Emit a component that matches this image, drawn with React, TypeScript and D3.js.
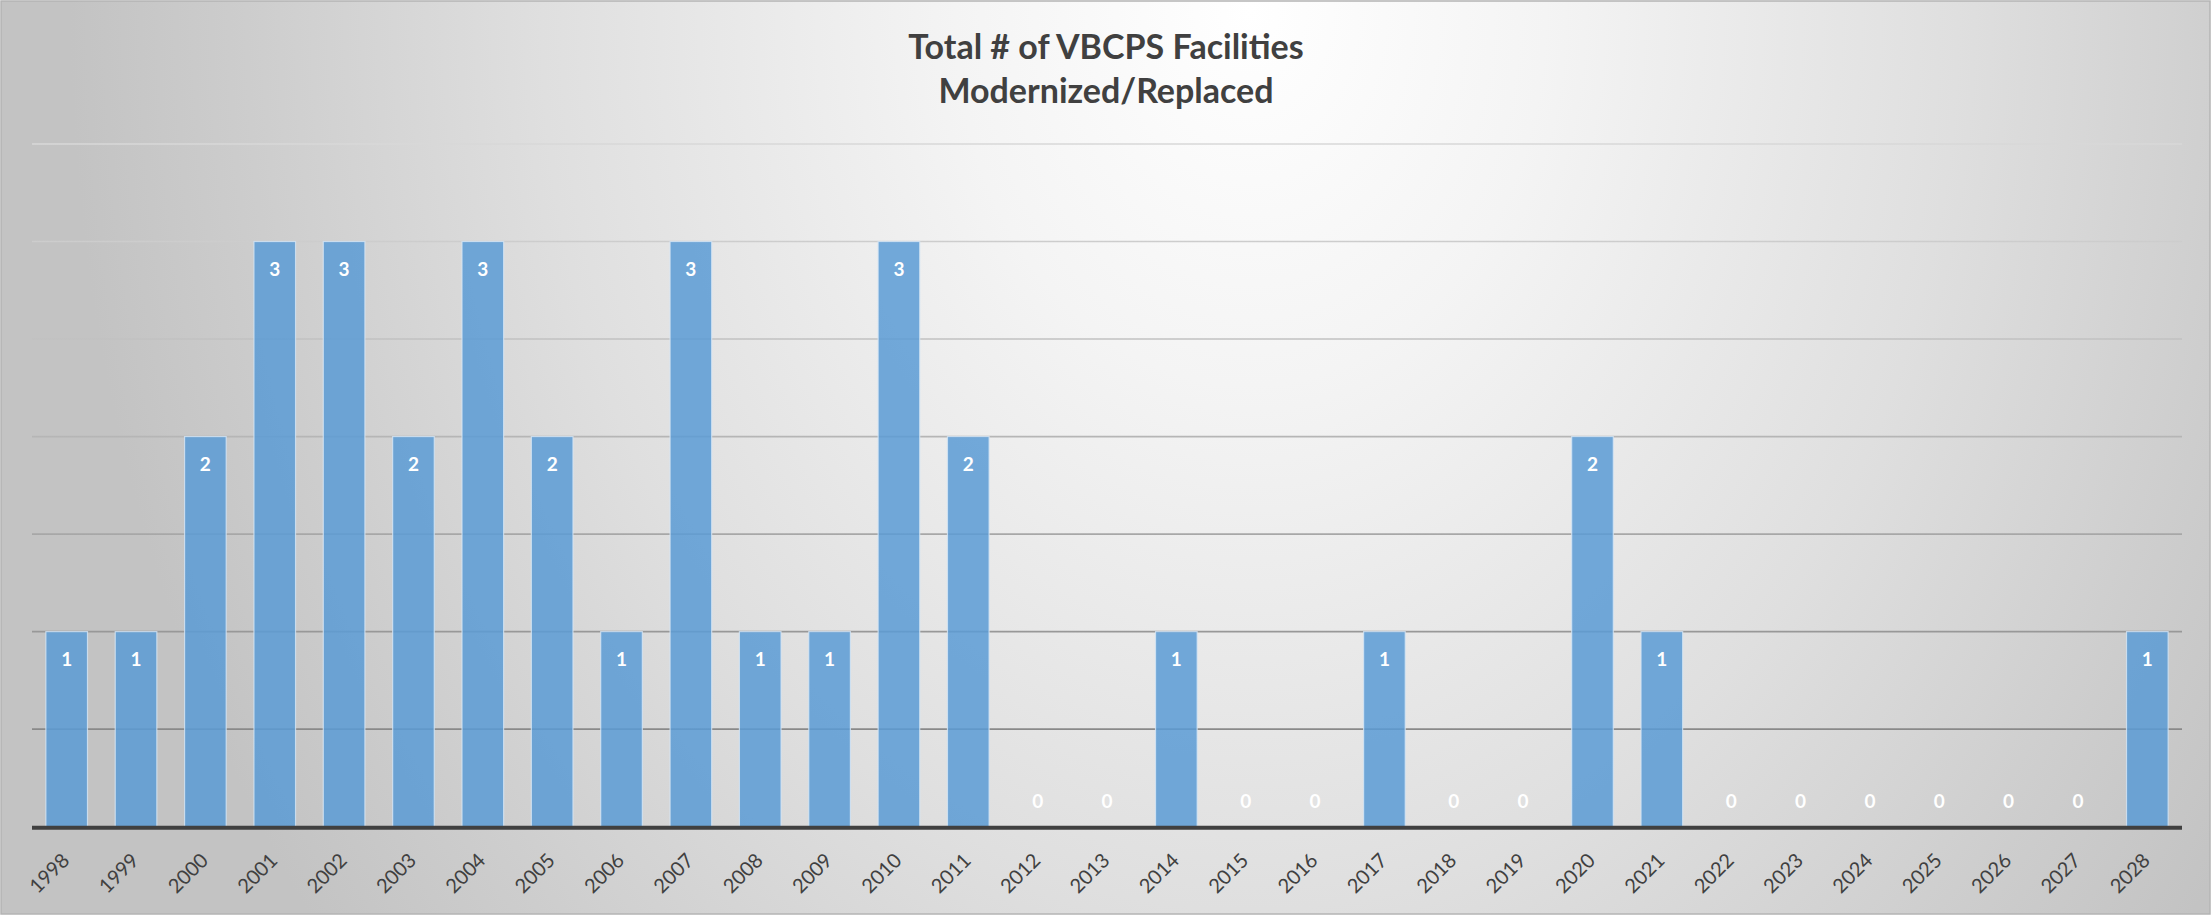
import React, { useEffect } from 'react';
import * as d3 from 'd3';

// chart data
const years = [
  '1998', '1999', '2000', '2001', '2002', '2003', '2004', '2005', '2006', '2007', '2008',
  '2009', '2010', '2011', '2012', '2013', '2014', '2015', '2016', '2017', '2018', '2019',
  '2020', '2021', '2022', '2023', '2024', '2025', '2026', '2027', '2028',
];
const facilities = [1, 1, 2, 3, 3, 2, 3, 2, 1, 3, 1, 1, 3, 2, 0, 0, 1, 0, 0, 1, 0, 0, 2, 1, 0, 0, 0, 0, 0, 0, 1];
const gridValues = [0.5, 1, 1.5, 2, 2.5, 3, 3.5];
const titleLines = ['Total # of VBCPS Facilities', 'Modernized/Replaced'];

const W = 2211;
const H = 915;
const font = 'Lato, "Open Sans", sans-serif';

const App = () => {
  useEffect(() => {
    document.body.style.margin = '0';
  }, []);

  const x = d3.scaleBand<string>()
    .domain(years)
    .range([32, 2182])
    .paddingInner(0.4)
    .paddingOuter(0.2);

  const y = d3.scaleLinear().domain([0, 3.5]).range([826.7, 144]);
  const base = y(0);

  return (
    <svg width={W} height={H} style={{ display: 'block' }}>
      <defs>
        {/* soft off-centre spotlight behind the title */}
        <radialGradient
          id="bg"
          gradientUnits="userSpaceOnUse"
          cx="0"
          cy="0"
          r="1"
          gradientTransform="translate(1250,10) scale(1180,1500)"
        >
          <stop offset="0" stopColor="#ffffff" />
          <stop offset="0.25" stopColor="#f4f4f4" />
          <stop offset="0.6" stopColor="#dfdfdf" />
          <stop offset="0.85" stopColor="#cdcdcd" />
          <stop offset="1" stopColor="#c3c3c3" />
        </radialGradient>
        <linearGradient id="grid" gradientUnits="userSpaceOnUse" x1="0" y1={y(3.5)} x2="0" y2={base}>
          <stop offset="0" stopColor="#d8d8d8" />
          <stop offset="0.45" stopColor="#b4b4b4" />
          <stop offset="1" stopColor="#7a7a7a" />
        </linearGradient>
      </defs>

      <rect x={1} y={1} width={W - 2} height={H - 2} fill="url(#bg)" stroke="#b4b4b4" strokeWidth={1.5} />

      {/* title */}
      <text textAnchor="middle" fontFamily={font} fontWeight="bold" fontSize={34} fill="#404040">
        {titleLines.map((t, i) => (
          <tspan key={t} x={1106} y={59 + i * 44}>{t}</tspan>
        ))}
      </text>

      {/* gridlines */}
      {gridValues.map(v => (
        <line key={v} x1={32} x2={2182} y1={y(v)} y2={y(v)} stroke="url(#grid)" strokeWidth={1.6} />
      ))}

      {/* bars + labels */}
      {years.map((yr, i) => {
        const v = facilities[i];
        const bx = x(yr)!;
        return (
          <g key={yr}>
            {v > 0 && (
              <rect
                x={bx}
                y={y(v)}
                width={x.bandwidth()}
                height={base - y(v)}
                fill="#5b9bd5"
                fillOpacity={0.85}
                stroke="#d6e6f5"
                strokeOpacity={0.8}
                strokeWidth={1.2}
              />
            )}
            <text
              x={bx + x.bandwidth() / 2}
              y={v > 0 ? y(v) + 28 : base - 25}
              dy="0.35em"
              textAnchor="middle"
              fontFamily={font}
              fontWeight="bold"
              fontSize={19}
              fill="#ffffff"
            >
              {v}
            </text>
          </g>
        );
      })}

      {/* axis */}
      <line x1={32} x2={2182} y1={base + 1} y2={base + 1} stroke="#404040" strokeWidth={4} />

      {years.map(yr => {
        const cx = x(yr)! + x.bandwidth() / 2;
        return (
          <text
            key={yr}
            transform={`translate(${cx + 4},${base + 35}) rotate(-45)`}
            textAnchor="end"
            fontFamily={font}
            fontSize={20}
            fill="#404040"
          >
            {yr}
          </text>
        );
      })}
    </svg>
  );
};

export default App;
